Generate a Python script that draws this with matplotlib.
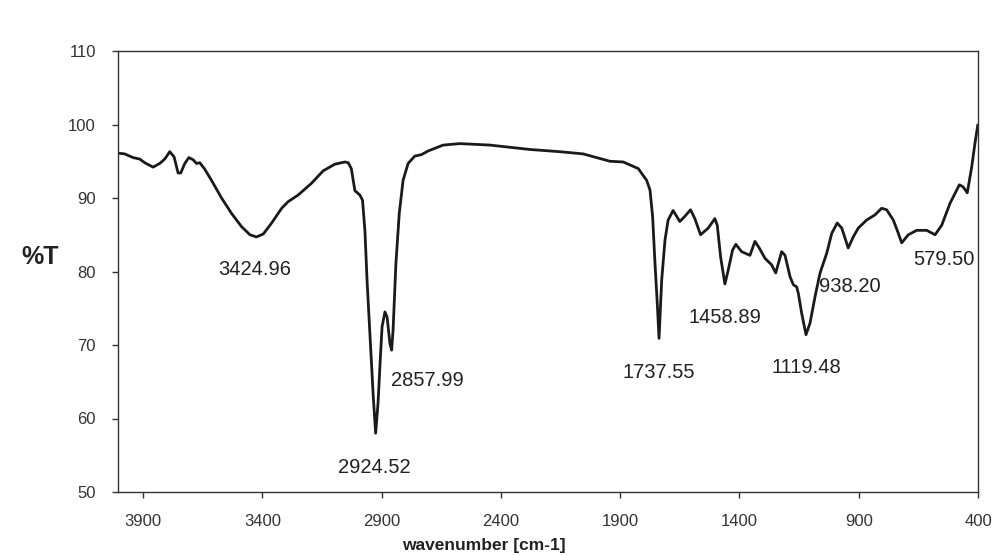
import matplotlib.pyplot as plt

plt.rcParams['font.family'] = ['Liberation Sans', 'DejaVu Sans']

# FTIR spectrum
wavenumber = [4005, 3977, 3942, 3914, 3893, 3858, 3830, 3809, 3788, 3770,
              3753, 3742, 3725, 3708, 3690, 3676, 3662, 3641, 3613, 3571,
              3529, 3487, 3452, 3425, 3396, 3361, 3319, 3292, 3250, 3194,
              3145, 3096, 3054, 3040, 3027, 3012, 2991, 2980, 2970, 2961,
              2946, 2935, 2925, 2915, 2905, 2898, 2886, 2877, 2865, 2858,
              2852, 2840, 2826, 2810, 2789, 2761, 2733, 2705, 2642, 2572,
              2446, 2278, 2153, 2055, 1943, 1887, 1824, 1789, 1775, 1764,
              1754, 1745, 1737, 1726, 1712, 1699, 1678, 1650, 1629, 1605,
              1587, 1563, 1531, 1503, 1493, 1479, 1461, 1447, 1429, 1415,
              1391, 1356, 1335, 1317, 1293, 1265, 1248, 1223, 1209, 1188,
              1174, 1160, 1153, 1139, 1121, 1104, 1083, 1062, 1034, 1013,
              990, 971, 944, 923, 902, 867, 832, 804, 783, 755,
              734, 720, 692, 657, 615, 580, 552, 517, 478, 462,
              445, 426, 413, 401]
transmittance = [96.1, 96.0, 95.5, 95.3, 94.8, 94.2, 94.7, 95.3, 96.3, 95.6,
                 93.4, 93.4, 94.7, 95.5, 95.2, 94.7, 94.8, 93.9, 92.4, 90.0,
                 87.9, 86.1, 85.0, 84.7, 85.1, 86.6, 88.6, 89.5, 90.4, 92.0,
                 93.7, 94.6, 94.9, 94.8, 94.0, 91.0, 90.4, 89.7, 85.6, 78.8,
                 69.8, 63.0, 58.0, 62.1, 68.4, 72.5, 74.5, 73.8, 70.2, 69.3,
                 72.0, 81.1, 87.9, 92.4, 94.7, 95.7, 95.9, 96.4, 97.2, 97.4,
                 97.2, 96.6, 96.3, 96.0, 95.0, 94.9, 94.0, 92.4, 91.1, 87.5,
                 81.1, 76.0, 70.9, 78.8, 84.3, 87.0, 88.3, 86.8, 87.5, 88.4,
                 87.2, 85.0, 85.9, 87.2, 86.3, 82.0, 78.3, 80.2, 82.9, 83.7,
                 82.7, 82.2, 84.1, 83.2, 81.8, 80.9, 79.8, 82.7, 82.2, 79.3,
                 78.2, 77.9, 77.0, 74.3, 71.4, 73.0, 76.6, 79.8, 82.5, 85.2,
                 86.6, 85.9, 83.2, 84.7, 85.9, 87.0, 87.7, 88.6, 88.4, 87.0,
                 85.2, 83.9, 85.0, 85.6, 85.6, 85.0, 86.3, 89.3, 91.8, 91.5,
                 90.7, 94.3, 97.4, 99.9]

peak_labels = ['3424.96', '2924.52', '2857.99', '1737.55',
               '1458.89', '1119.48', '938.20', '579.50']
# where each label sits (data coords)
label_pos = [(3431, 80.3), (2932, 53.4), (2710, 65.2), (1737, 66.3),
             (1461, 73.8), (1121, 66.9), (937, 77.9), (543, 81.7)]

xticks = [3900, 3400, 2900, 2400, 1900, 1400, 900, 400]
yticks = [50, 60, 70, 80, 90, 100, 110]

fig = plt.figure(figsize=(9.97, 5.56), dpi=100)
ax = fig.add_axes([118/997, 64/556, 860/997, 441/556])

ax.plot(wavenumber, transmittance, color='#1a1a1a', lw=2.0,
        solid_joinstyle='round')

for lab, (x, y) in zip(peak_labels, label_pos):
    ax.text(x, y, lab, ha='center', va='center', fontsize=14.5, color='#222222')

ax.set_xlim(4005, 400)
ax.set_ylim(50, 110)
ax.set_xticks(xticks)
ax.set_yticks(yticks)
ax.tick_params(direction='out', length=4, width=1, color='#333333',
               labelsize=12, labelcolor='#333333')
ax.tick_params(axis='x', pad=12)
ax.tick_params(axis='y', pad=12)
for s in ax.spines.values():
    s.set_color('#333333')
    s.set_linewidth(1)

fig.text(40/997, 1 - 257/556, '%T', ha='center', va='center',
         fontsize=18, fontweight='bold', color='#222222')
fig.text(484/997, 3/556, 'wavenumber [cm-1]', ha='center', va='bottom',
         fontsize=12.5, fontweight='bold', color='#222222')

fig.savefig('out.png', dpi=100)
